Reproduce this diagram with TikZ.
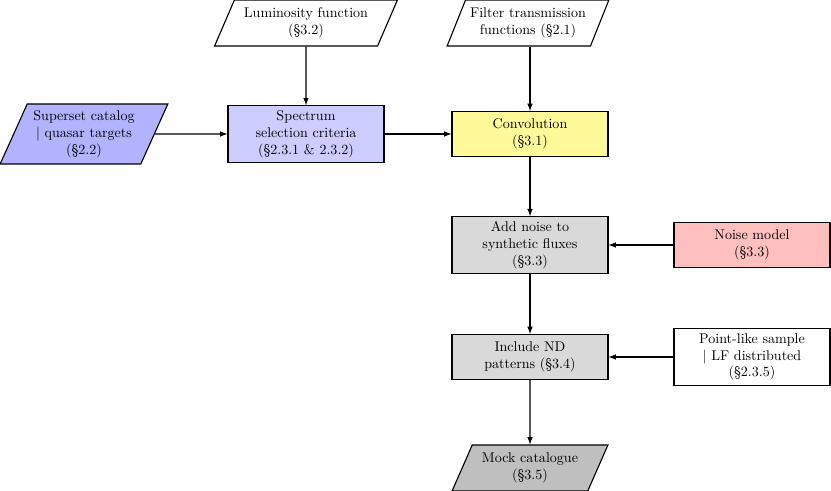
\documentclass[tikz,border=0pt]{standalone}
\usetikzlibrary{shapes.geometric}

\begin{document}
\begin{tikzpicture}[>=latex,
    procbox/.style={draw, thick, align=center, minimum width=3.9cm, minimum height=1.125cm},
    databox/.style={draw, thick, align=center, trapezium, trapezium left angle=65, trapezium right angle=115, trapezium stretches=true, minimum height=1.15cm}]
    \useasboundingbox (0,0) rectangle (20.775,-12.275);
    % inputs
    \node[databox, fill=blue!30, minimum width=4.2cm, minimum height=1.5cm] (superset) at (2.1,-3.35) {Superset catalog\\| quasar targets\\(\S2.2)};
    \node[databox, fill=white, minimum width=4.575cm] (lumfunc) at (7.65,-0.575) {Luminosity function\\(\S3.2)};
    \node[databox, fill=white, minimum width=4.05cm] (filters) at (13.2,-0.575) {Filter transmission\\functions (\S2.1)};

    % processing steps
    \node[procbox, fill=blue!20] (selection) at (7.65,-3.35) {Spectrum\\selection criteria\\(\S2.3.1 \& 2.3.2)};
    \node[procbox, fill=yellow!40] (convol) at (13.25,-3.35) {Convolution\\(\S3.1)};
    \node[procbox, fill=gray!30] (addnoise) at (13.25,-6.125) {Add noise to\\synthetic fluxes\\(\S3.3)};
    \node[procbox, fill=red!25] (noisemodel) at (18.8,-6.125) {Noise model\\(\S3.3)};
    \node[procbox, fill=gray!30] (include) at (13.25,-8.925) {Include ND\\patterns (\S3.4)};
    \node[procbox, fill=white] (pointlike) at (18.8,-8.925) {Point-like sample\\| LF distributed\\(\S2.3.5)};

    % output
    \node[databox, fill=gray!50, minimum width=3.9cm] (mock) at (13.25,-11.7) {Mock catalogue\\(\S3.5)};

    \draw[->, thick] (superset) -- (selection);
    \draw[->, thick] (lumfunc) -- (selection);
    \draw[->, thick] (selection) -- (convol);
    \draw[->, thick] (filters.south -| convol.north) -- (convol);
    \draw[->, thick] (convol) -- (addnoise);
    \draw[->, thick] (noisemodel) -- (addnoise);
    \draw[->, thick] (addnoise) -- (include);
    \draw[->, thick] (pointlike) -- (include);
    \draw[->, thick] (include) -- (mock);
\end{tikzpicture}
\end{document}
